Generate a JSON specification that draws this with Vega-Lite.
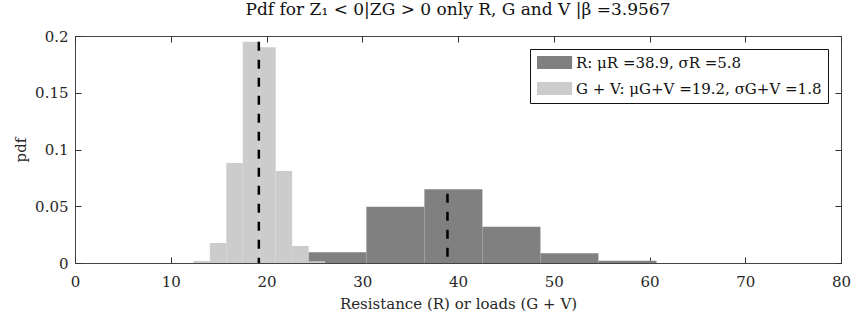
{
  "$schema": "https://vega.github.io/schema/vega-lite/v6.json",
  "width": 766,
  "height": 227,
  "autosize": "none",
  "padding": {"left": 75, "top": 36, "right": 12, "bottom": 54},
  "background": "white",
  "config": {
    "view": {"stroke": "#444", "strokeWidth": 1},
    "font": "DejaVu Serif",
    "title": {"font": "DejaVu Serif", "fontSize": 17, "fontWeight": "normal", "color": "#111", "offset": 10},
    "axis": {
      "labelFont": "DejaVu Serif", "labelFontSize": 15, "labelColor": "#262626",
      "titleFont": "DejaVu Serif", "titleFontSize": 15, "titleFontWeight": "normal", "titleColor": "#262626",
      "domainColor": "#444", "tickColor": "#333", "tickWidth": 1, "grid": false, "zindex": 1
    },
    "legend": {
      "orient": "top-right", "offset": 13, "strokeColor": "#111", "fillColor": "white",
      "padding": 6, "labelFont": "DejaVu Serif", "labelFontSize": 15, "labelColor": "#111",
      "symbolType": "M-1,-1H4.4V1H-1Z", "symbolSize": 169, "symbolStrokeWidth": 0,
      "symbolOpacity": 1, "rowPadding": 10, "labelOffset": 25, "labelLimit": 400
    }
  },
  "title": {"text": "Pdf for Z₁ < 0|ZG > 0 only R, G and V |β =3.9567"},
  "datasets": {
    "bins": [
      {"series": "R: μR =38.9, σR =5.8", "x0": 24.37, "x1": 30.43, "density": 0.0094},
      {"series": "R: μR =38.9, σR =5.8", "x0": 30.43, "x1": 36.49, "density": 0.0496},
      {"series": "R: μR =38.9, σR =5.8", "x0": 36.49, "x1": 42.55, "density": 0.065},
      {"series": "R: μR =38.9, σR =5.8", "x0": 42.55, "x1": 48.61, "density": 0.032},
      {"series": "R: μR =38.9, σR =5.8", "x0": 48.61, "x1": 54.67, "density": 0.0085},
      {"series": "R: μR =38.9, σR =5.8", "x0": 54.67, "x1": 60.73, "density": 0.002},
      {"series": "G + V: μG+V =19.2, σG+V =1.8", "x0": 12.36, "x1": 14.08, "density": 0.0018},
      {"series": "G + V: μG+V =19.2, σG+V =1.8", "x0": 14.08, "x1": 15.8, "density": 0.0176},
      {"series": "G + V: μG+V =19.2, σG+V =1.8", "x0": 15.8, "x1": 17.52, "density": 0.088},
      {"series": "G + V: μG+V =19.2, σG+V =1.8", "x0": 17.52, "x1": 19.24, "density": 0.195},
      {"series": "G + V: μG+V =19.2, σG+V =1.8", "x0": 19.24, "x1": 20.96, "density": 0.19},
      {"series": "G + V: μG+V =19.2, σG+V =1.8", "x0": 20.96, "x1": 22.68, "density": 0.081},
      {"series": "G + V: μG+V =19.2, σG+V =1.8", "x0": 22.68, "x1": 24.4, "density": 0.015},
      {"series": "G + V: μG+V =19.2, σG+V =1.8", "x0": 24.4, "x1": 26.12, "density": 0.0015}
    ],
    "means": [
      {"mean": 19.2, "top": 0.195},
      {"mean": 38.9, "top": 0.061}
    ]
  },
  "layer": [
    {
      "data": {"name": "bins"},
      "transform": [{"filter": "datum.series === 'R: μR =38.9, σR =5.8'"}],
      "mark": {"type": "bar", "stroke": null, "opacity": 1},
      "encoding": {
        "x": {
          "field": "x0", "type": "quantitative",
          "scale": {"domain": [0, 80], "nice": false, "zero": false},
          "axis": {"orient": "top", "offset": -227, "values": [0, 10, 20, 30, 40, 50, 60, 70, 80], "tickSize": 6, "domain": false, "labelBaseline": "top", "labelPadding": -17, "labelFlush": false, "title": "Resistance (R) or loads (G + V)", "titleY": 40, "titleBaseline": "middle", "titleAlign": "center"}
        },
        "x2": {"field": "x1"},
        "y": {
          "field": "density", "type": "quantitative",
          "scale": {"domain": [0, 0.2], "nice": false},
          "axis": {"orient": "right", "offset": -766, "values": [0, 0.05, 0.1, 0.15, 0.2], "format": ".2~f", "tickSize": 6, "domain": false, "labelAlign": "right", "labelBaseline": "middle", "labelPadding": -13, "labelFlush": false, "title": "pdf", "titleAngle": 270, "titleX": -55, "titleY": 113.5, "titleBaseline": "middle", "titleAlign": "center"}
        },
        "y2": {"datum": 0},
        "color": {
          "field": "series", "type": "nominal",
          "scale": {"domain": ["R: μR =38.9, σR =5.8", "G + V: μG+V =19.2, σG+V =1.8"], "range": ["#808080", "#cccccc"]},
          "legend": {"title": null}
        }
      }
    },
    {
      "data": {"name": "bins"},
      "transform": [{"filter": "datum.series === 'G + V: μG+V =19.2, σG+V =1.8'"}],
      "mark": {"type": "bar", "stroke": null, "opacity": 1},
      "encoding": {
        "x": {"field": "x0", "type": "quantitative", "axis": null},
        "x2": {"field": "x1"},
        "y": {"field": "density", "type": "quantitative", "axis": null},
        "y2": {"datum": 0},
        "color": {"field": "series", "type": "nominal", "legend": {"title": null}}
      }
    },
    {
      "data": {"name": "means"},
      "mark": {"type": "rule", "color": "black", "strokeWidth": 2.5, "strokeDash": [9, 9]},
      "encoding": {
        "x": {
          "field": "mean", "type": "quantitative",
          "axis": {"orient": "bottom", "offset": -227, "values": [0, 10, 20, 30, 40, 50, 60, 70, 80], "labels": false, "domain": false, "tickSize": 6, "title": null}
        },
        "y": {
          "field": "top", "type": "quantitative",
          "axis": {"orient": "left", "offset": -766, "values": [0, 0.05, 0.1, 0.15, 0.2], "labels": false, "domain": false, "tickSize": 6, "title": null}
        },
        "y2": {"datum": 0}
      }
    }
  ],
  "resolve": {"scale": {"x": "shared", "y": "shared", "color": "shared"}, "axis": {"x": "independent", "y": "independent"}}
}
